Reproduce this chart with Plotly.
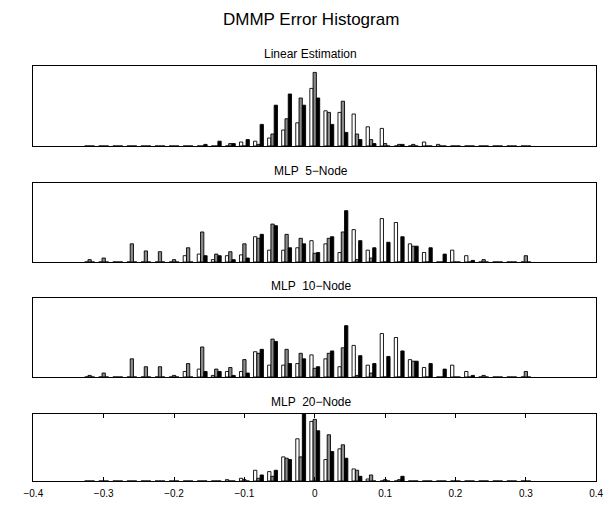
import plotly.graph_objects as go

# Bin centres (error value) shared by all panels
bin_centers = [-0.32, -0.30, -0.28, -0.26, -0.24, -0.22, -0.20, -0.18,
               -0.16, -0.14, -0.12, -0.10, -0.08, -0.06, -0.04, -0.02,
               0.00, 0.02, 0.04, 0.06, 0.08, 0.10, 0.12, 0.14,
               0.16, 0.18, 0.20, 0.22, 0.24, 0.26, 0.28, 0.30]

panel_titles = ["Linear Estimation", "MLP  5\u2212Node", "MLP  10\u2212Node", "MLP  20\u2212Node"]

# Heights (relative counts, % of axis height) -- white / gray / black series
lin_white = [0, 0, 0, 0, 0, 0, 0, 0, 0, 0, 0, 5, 6, 10, 20, 29, 72, 44, 42, 40, 24, 22, 0, 0, 5, 2, 0, 0, 0, 0, 0, 0]
lin_gray  = [0, 0, 0, 0, 0, 0, 0, 0, 0, 0, 3, 0, 2, 15, 34, 60, 92, 42, 56, 15, 8, 3, 2, 2, 0, 0, 0, 0, 0, 0, 0, 0]
lin_black = [0, 0, 0, 0, 0, 0, 0, 0, 2, 6, 3, 8, 27, 51, 65, 51, 60, 27, 17, 8, 3, 0, 2, 0, 0, 0, 0, 0, 0, 0, 0, 0]

m5_white = [0, 0, 0, 0, 0, 0, 0, 8, 10, 3, 8, 9, 32, 15, 15, 18, 27, 23, 12, 41, 15, 55, 50, 23, 12, 0, 15, 8, 0, 0, 0, 0]
m5_gray  = [3, 5, 0, 23, 14, 13, 3, 18, 38, 10, 13, 23, 30, 48, 35, 30, 11, 30, 38, 3, 5, 0, 0, 20, 0, 0, 0, 0, 3, 0, 0, 8]
m5_black = [0, 0, 0, 0, 0, 0, 0, 0, 8, 8, 3, 5, 35, 46, 18, 23, 12, 32, 65, 27, 18, 25, 32, 20, 18, 10, 0, 2, 0, 0, 0, 0]

m10_white = [0, 0, 0, 0, 0, 0, 0, 7, 10, 2, 7, 7, 32, 15, 15, 17, 28, 23, 13, 40, 15, 55, 50, 22, 12, 0, 15, 7, 0, 0, 0, 0]
m10_gray  = [2, 5, 0, 23, 13, 13, 2, 17, 38, 10, 12, 22, 30, 48, 35, 30, 11, 30, 37, 2, 5, 0, 0, 20, 0, 0, 0, 0, 2, 0, 0, 7]
m10_black = [0, 0, 0, 0, 0, 0, 0, 0, 7, 7, 2, 5, 35, 45, 17, 23, 13, 33, 65, 27, 17, 26, 33, 20, 17, 10, 0, 2, 0, 0, 0, 0]

m20_white = [0, 0, 0, 0, 0, 0, 0, 0, 0, 0, 2, 4, 16, 14, 36, 63, 89, 32, 48, 18, 3, 0, 0, 0, 0, 0, 0, 0, 0, 0, 0, 0]
m20_gray  = [0, 0, 0, 0, 0, 0, 0, 0, 0, 0, 0, 2, 4, 7, 34, 36, 92, 69, 54, 16, 9, 2, 2, 0, 0, 0, 0, 0, 0, 0, 0, 0]
m20_black = [0, 0, 0, 0, 0, 0, 0, 0, 0, 0, 0, 0, 9, 16, 32, 100, 75, 44, 34, 7, 0, 0, 7, 0, 0, 0, 0, 0, 0, 0, 0, 0]

tick_vals = [-0.4, -0.3, -0.2, -0.1, 0, 0.1, 0.2, 0.3, 0.4]
tick_text = ["\u22120.4", "\u22120.3", "\u22120.2", "\u22120.1", "0", "0.1", "0.2", "0.3", "0.4"]

panels = [
    (lin_white, lin_gray, lin_black),
    (m5_white, m5_gray, m5_black),
    (m10_white, m10_gray, m10_black),
    (m20_white, m20_gray, m20_black),
]

W, H = 610, 506
x0, x1 = 24, 603
boxes_px = [(66, 146), (183, 262), (298, 377), (414, 481)]
fills = ["#ffffff", "#8a8a8a", "#000000"]
FONT = "Liberation Sans, Arial, Helvetica, sans-serif"
title_cx = (x0 + x1) / 2 - 4

fig = go.Figure()
for i, (series, (top, bot)) in enumerate(zip(panels, boxes_px)):
    n = i + 1
    xa = "x" if n == 1 else f"x{n}"
    ya = "y" if n == 1 else f"y{n}"
    for vals, col in zip(series, fills):
        fig.add_trace(go.Bar(
            x=bin_centers, y=vals, xaxis=xa, yaxis=ya,
            marker=dict(color=col, line=dict(color="#000000", width=0.9)),
            showlegend=False, hoverinfo="skip",
        ))
    last = (n == 4)
    fig.layout[f"xaxis{'' if n == 1 else n}"] = dict(
        domain=[x0 / W, x1 / W], range=[-0.4, 0.4], anchor=ya,
        showline=True, linecolor="#000000", linewidth=1, mirror="ticks" if last else True,
        showgrid=False, zeroline=False,
        ticks="inside" if last else "", ticklen=4, tickcolor="#000000",
        tickvals=tick_vals, ticktext=tick_text, showticklabels=last,
        ticklabelstandoff=3, ticklabeloverflow="allow",
        tickfont=dict(family=FONT, size=10, color="#000000"),
    )
    fig.layout[f"yaxis{'' if n == 1 else n}"] = dict(
        domain=[1 - bot / H, 1 - top / H], range=[0, 100], anchor=xa,
        showline=True, linecolor="#000000", linewidth=1, mirror=True,
        showgrid=False, zeroline=False, ticks="", showticklabels=False,
    )
    fig.add_annotation(
        text=panel_titles[i], xref="paper", yref="paper",
        x=title_cx / W, y=1 - (top - 3) / H, xanchor="center", yanchor="bottom",
        showarrow=False, font=dict(family=FONT, size=12, color="#000000"),
    )

fig.add_annotation(
    text="DMMP Error Histogram", xref="paper", yref="paper",
    x=title_cx / W, y=1 - 8 / H, xanchor="center", yanchor="top",
    showarrow=False, font=dict(family=FONT, size=17, color="#000000"),
)

fig.update_layout(
    width=W, height=H, margin=dict(l=0, r=0, t=0, b=0),
    paper_bgcolor="#ffffff", plot_bgcolor="#ffffff",
    barmode="group", bargap=0.3, bargroupgap=0.0,
)

fig.write_html("out.html", config={"displayModeBar": False},
               post_script="document.body.style.margin='0';document.body.style.overflow='hidden';")
